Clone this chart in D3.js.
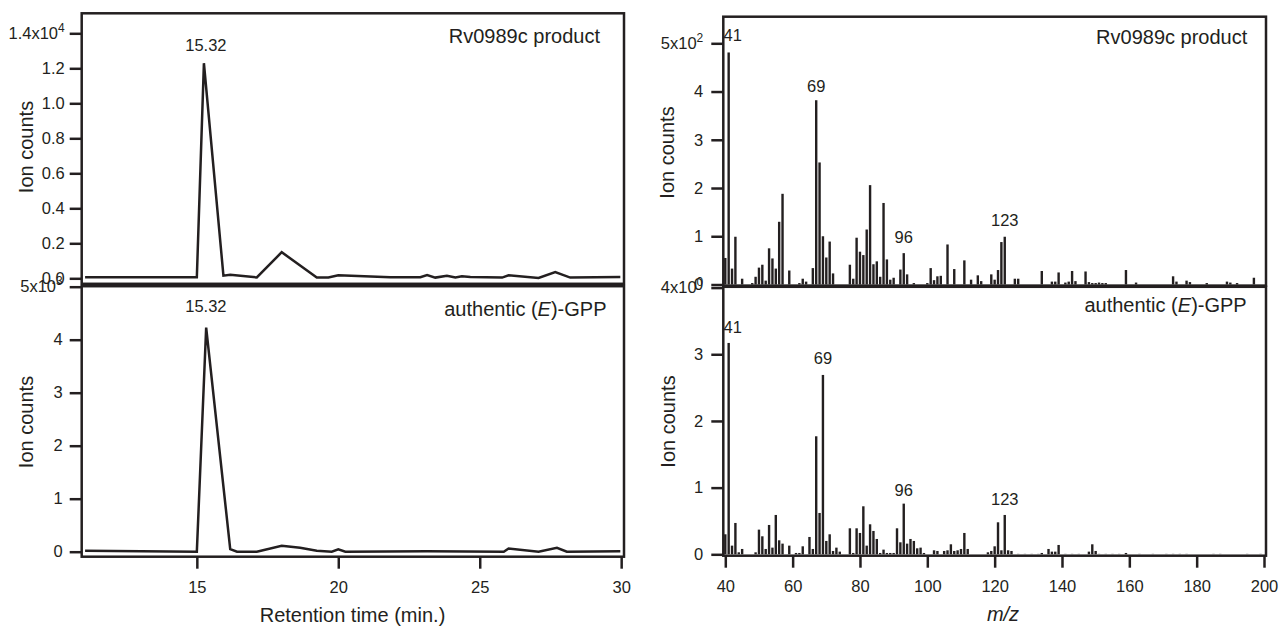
<!DOCTYPE html>
<html><head><meta charset="utf-8">
<script src="https://cdn.jsdelivr.net/npm/d3@7"></script>
<style>
html,body{margin:0;padding:0;background:#fff;}
svg{display:block;font-family:"Liberation Sans",Arial,Helvetica,sans-serif;}
</style></head><body>
<svg id="chart" width="1280" height="626"></svg>
<script>
// ---------- DATA ----------
// Total ion chromatograms (retention time in min)
const rtTop = [11.05, 15.0, 15.25, 15.94, 16.18, 17.12, 18.0, 19.24, 19.65, 20.0, 21.84, 22.9, 23.14, 23.43, 23.84, 24.14, 24.37, 24.67, 25.79, 26.02, 27.08, 27.67, 28.2, 29.97];
const ionTop = [0.006, 0.006, 1.229, 0.015, 0.02, 0.005, 0.149, 0.005, 0.005, 0.017, 0.006, 0.006, 0.018, 0.004, 0.015, 0.005, 0.011, 0.008, 0.004, 0.017, 0.002, 0.036, 0.004, 0.007]; // x10^4
const rtBot = [11.05, 15.0, 15.33, 16.18, 16.42, 17.12, 18.0, 18.65, 19.24, 19.77, 20.0, 20.25, 23.14, 25.85, 26.02, 27.08, 27.73, 28.08, 29.97];
const ionBot = [0.02, 0.0, 4.23, 0.05, 0.0, 0.0, 0.11, 0.075, 0.02, 0.0, 0.045, 0.0, 0.01, 0.0, 0.06, 0.0, 0.075, 0.0, 0.01]; // x10^3

// Mass spectra
const mzTop = [40,41,42,43,45,48,49,50,51,52,53,54,55,56,57,59,62,63,64,66,67,68,69,70,71,72,77,78,79,80,81,82,83,84,85,86,87,88,89,90,92,93,94,96,100,101,102,103,104,106,108,111,113,115,116,119,120,121,122,123,126,127,134,137,138,139,141,142,143,144,147,148,149,150,151,152,153,159,162,173,174,177,178,183,189,190,192,197];
const intTop = [0.55,4.81,0.33,0.99,0.12,0.03,0.16,0.35,0.41,0.08,0.75,0.54,0.33,1.30,1.88,0.29,0.03,0.12,0.06,0.34,3.82,2.53,1.00,0.56,0.89,0.23,0.41,0.12,0.97,0.68,0.61,1.14,2.06,0.42,0.48,0.16,1.69,0.52,0.10,0.14,0.31,0.65,0.21,0.03,0.03,0.34,0.09,0.17,0.18,0.83,0.32,0.50,0.10,0.19,0.07,0.21,0.10,0.30,0.88,0.99,0.12,0.12,0.28,0.06,0.06,0.25,0.04,0.06,0.28,0.07,0.27,0.05,0.03,0.03,0.04,0.03,0.03,0.30,0.04,0.17,0.06,0.08,0.05,0.03,0.06,0.04,0.03,0.14]; // x10^2
const mzBot = [40,41,42,43,44,45,49,50,51,52,53,54,55,56,57,59,61,62,63,65,66,67,68,69,70,71,72,73,74,77,78,79,80,81,82,83,84,85,86,87,88,89,90,91,92,93,94,95,96,97,98,99,102,103,105,106,107,108,109,110,111,112,118,119,120,121,122,123,124,125,134,136,137,138,139,148,149,150,159];
const intBot = [0.30,3.17,0.13,0.47,0.03,0.08,0.03,0.37,0.27,0.08,0.44,0.10,0.59,0.21,0.16,0.13,0.02,0.02,0.12,0.26,0.08,1.77,0.62,2.69,0.20,0.30,0.05,0.10,0.04,0.39,0.02,0.39,0.32,0.72,0.13,0.45,0.35,0.23,0.02,0.07,0.02,0.02,0.02,0.39,0.18,0.76,0.16,0.23,0.20,0.09,0.10,0.02,0.06,0.05,0.05,0.06,0.15,0.05,0.06,0.08,0.32,0.08,0.03,0.05,0.12,0.48,0.06,0.59,0.06,0.05,0.02,0.08,0.04,0.04,0.14,0.04,0.15,0.05,0.02]; // x10^0
const mzBotFaint = [127,129,131,133,141,143,145,151,153,155,157,163,167,171,173,175,177,185,187,195,199];
const intBotFaint = [0.012,0.012,0.012,0.012,0.012,0.012,0.012,0.012,0.012,0.012,0.012,0.012,0.012,0.012,0.012,0.012,0.012,0.012,0.012,0.012,0.012];

// peak labels: text and the m/z of the bar they sit above
const peakTextTop = ["41","69","96","123"];
const peakMzTop = [41,67,93,123];
const peakTextBot = ["41","69","96","123"];
const peakMzBot = [41,69,93,123];
const rtPeakText = "15.32";

// ticks
const rtTicks = [15,20,25,30];
const mzTicks = [40,60,80,100,120,140,160,180,200];
const ticTopTicks = [0,0.2,0.4,0.6,0.8,1.0,1.2,1.4];
const ticBotTicks = [0,1,2,3,4,5];
const msTopTicks = [0,1,2,3,4,5];
const msBotTicks = [0,1,2,3,4];
const exps = {tl:["1.4x10","4"], bl:["5x10","3"], tr:["5x10","2"], br:["4x10","0"]};

const panelTitleTop = "Rv0989c product";
const ylab = "Ion counts";

// ---------- DRAW ----------
const INK = "#231f20";
const svg = d3.select("#chart");
svg.append("rect").attr("width",1280).attr("height",626).attr("fill","#fff");

const xRT = d3.scaleLinear([10.93, 30.1], [81.7, 624]);
const xMZ = d3.scaleLinear([40, 200], [725.3, 1264]);
const yTL = d3.scaleLinear([0, 1.4], [278.3, 33.3]);
const yBL = d3.scaleLinear([0, 5], [551.7, 286.7]);
const yTR = d3.scaleLinear([0, 5], [284.5, 43.3]);
const yBR = d3.scaleLinear([0, 4], [554.3, 287.6]);

function frame(x0,y0,x1,y1){
  svg.append("rect").attr("x",x0).attr("y",y0).attr("width",x1-x0).attr("height",y1-y0)
    .attr("fill","none").attr("stroke",INK).attr("stroke-width",2.5);
}

function yAxis(scale, xPos, ticks, fmt, exp, pad){
  const g = svg.append("g").attr("transform",`translate(${xPos},0)`)
    .call(d3.axisLeft(scale).tickValues(ticks).tickSize(12).tickPadding(pad).tickFormat(fmt));
  g.select(".domain").remove();
  g.selectAll(".tick line").attr("stroke",INK).attr("stroke-width",2.5);
  g.selectAll(".tick text").attr("fill",INK).style("font-size","16.5px").attr("font-family",null);
  const top = g.selectAll(".tick").filter(d=>d===ticks[ticks.length-1]).select("text");
  top.text(null);
  top.append("tspan").text(exp[0]);
  top.append("tspan").text(exp[1]).attr("dy","-0.6em").style("font-size","12px");
  return g;
}
function xAxis(scale, yPos, ticks){
  const g = svg.append("g").attr("transform",`translate(0,${yPos})`)
    .call(d3.axisBottom(scale).tickValues(ticks).tickSize(12).tickPadding(13).tickFormat(d3.format("d")));
  g.select(".domain").remove();
  g.selectAll(".tick line").attr("stroke",INK).attr("stroke-width",2.5);
  g.selectAll(".tick text").attr("fill",INK).style("font-size","16.5px").attr("font-family",null);
}
function ylabel(x,y){
  svg.append("text").attr("transform",`translate(${x},${y}) rotate(-90)`).attr("text-anchor","middle")
    .attr("dy","0.35em").attr("fill",INK).style("font-size","20px").text(ylab);
}
function panelTitle(xr, y, isAuth){
  const t = svg.append("text").attr("x",xr).attr("y",y).attr("dy","0.35em").attr("text-anchor","end")
    .attr("fill",INK).style("font-size","20px");
  if(!isAuth){ t.text(panelTitleTop); }
  else {
    t.append("tspan").text("authentic (");
    t.append("tspan").text("E").style("font-style","italic");
    t.append("tspan").text(")-GPP");
  }
}

// ----- left panels (chromatograms)
frame(81.7,13.3,624,283.8);
frame(81.7,286.2,624,556.7);
const line = (x,y)=>d3.line().x(d=>x(d[0])).y(d=>y(d[1]));
svg.append("path").datum(d3.zip(rtTop,ionTop)).attr("d",line(xRT,yTL))
  .attr("fill","none").attr("stroke",INK).attr("stroke-width",2.5).attr("stroke-linejoin","miter");
svg.append("path").datum(d3.zip(rtBot,ionBot)).attr("d",line(xRT,yBL))
  .attr("fill","none").attr("stroke",INK).attr("stroke-width",2.5).attr("stroke-linejoin","miter");

yAxis(yTL, 81.7, ticTopTicks, d3.format(".1f"), exps.tl, 5);
yAxis(yBL, 81.7, ticBotTicks, d3.format("d"), exps.bl, 7);
xAxis(xRT, 556.7, rtTicks);

// peak labels chromatograms
const iT = d3.maxIndex(ionTop), iB = d3.maxIndex(ionBot);
svg.append("text").attr("x",xRT(15.32)).attr("y",yTL(ionTop[iT])-18).attr("dy","0.35em").attr("text-anchor","middle")
  .attr("fill",INK).style("font-size","16.5px").text(rtPeakText);
svg.append("text").attr("x",xRT(15.32)).attr("y",yBL(ionBot[iB])-21).attr("dy","0.35em").attr("text-anchor","middle")
  .attr("fill",INK).style("font-size","16.5px").text(rtPeakText);

ylabel(25.5,147); ylabel(25.5,422);
panelTitle(600,36,false);
panelTitle(606.5,308.5,true);
svg.append("text").attr("x",352.5).attr("y",615).attr("dy","0.35em").attr("text-anchor","middle")
  .attr("fill",INK).style("font-size","20px").text("Retention time (min.)");

// ----- right panels (mass spectra)
const bw = 2.4;
function bars(mz, val, y, color){
  svg.append("g").selectAll("rect").data(d3.zip(mz,val)).join("rect")
    .attr("x",d=>xMZ(d[0])-bw/2).attr("width",bw)
    .attr("y",d=>y(d[1])).attr("height",d=>y(0)-y(d[1]))
    .attr("fill",color);
}
bars(mzBotFaint, intBotFaint, yBR, "#c9c9c9");
bars(mzTop, intTop, yTR, INK);
bars(mzBot, intBot, yBR, INK);
frame(723.3,16.7,1266,285.6);
frame(723.3,286.8,1266,555.7);

yAxis(yTR, 723.3, msTopTicks, d3.format("d"), exps.tr, 8);
yAxis(yBR, 723.3, msBotTicks, d3.format("d"), exps.br, 8);
xAxis(xMZ, 555.7, mzTicks);

function peakLabels(texts, mzs, mz, val, y, offs){
  texts.forEach((t,i)=>{
    const v = val[mz.indexOf(mzs[i])];
    svg.append("text").attr("x",xMZ(mzs[i]) + (t==="41"?4:0)).attr("y",y(v)-offs[i])
      .attr("dy","0.35em").attr("text-anchor","middle").attr("fill",INK).style("font-size","16.5px").text(t);
  });
}
peakLabels(peakTextTop, peakMzTop, mzTop, intTop, yTR, [17,14,16,17]);
peakLabels(peakTextBot, peakMzBot, mzBot, intBot, yBR, [16,17,13,16]);

ylabel(667,152.5); ylabel(668,421.5);
panelTitle(1247.3,36.7,false);
panelTitle(1246.7,305,true);
svg.append("text").attr("x",1003).attr("y",614).attr("dy","0.35em").attr("text-anchor","middle")
  .attr("fill",INK).style("font-size","20px").style("font-style","italic").text("m/z");
</script>
</body></html>
